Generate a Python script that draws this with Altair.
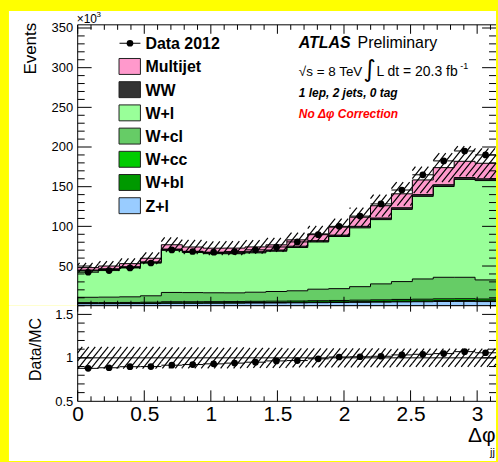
import altair as alt
import numpy as np
import pandas as pd

FONT = "Liberation Sans"

# Δφ_jj binning: 20 equal bins over [0, π]
N_BINS = 20
X_MAX = np.pi
edges = np.linspace(0.0, X_MAX, N_BINS + 1)
centers = 0.5 * (edges[:-1] + edges[1:])

# Background processes in thousands of events, listed from the bottom of the stack up
process_names = ["Z+l", "W+bl", "W+cc", "W+cl", "W+l", "WW", "Multijet"]
process_colors = ["#99ccff", "#009900", "#00cc00", "#66cc66", "#99ff99", "#333333", "#ff99cc"]

z_l = [2.5, 2.5, 2.6, 2.7, 3.0, 3.0, 3.1, 3.2, 3.3, 3.4, 3.6, 3.8, 4.0, 4.2, 4.5, 4.8, 5.0, 5.3, 5.4, 5.2]
w_bl = [0.4, 0.4, 0.4, 0.5, 0.6, 0.6, 0.6, 0.6, 0.7, 0.7, 0.7, 0.8, 0.8, 0.9, 0.9, 1.0, 1.0, 1.1, 1.1, 1.0]
w_cc = [1.0, 1.0, 1.1, 1.2, 1.4, 1.4, 1.4, 1.4, 1.5, 1.6, 1.6, 1.7, 1.8, 1.9, 2.0, 2.1, 2.2, 2.3, 2.3, 2.2]
w_cl = [6.7, 6.9, 7.1, 8.1, 11.7, 11.5, 11.2, 11.0, 11.5, 12.2, 12.9, 14.5, 14.9, 17.0, 20.1, 22.5, 25.5, 27.1, 27.0, 24.1]
w_l = [33.3, 34.8, 36.9, 41.6, 53.2, 50.6, 49.3, 49.3, 49.6, 50.8, 54.6, 59.5, 65.7, 74.1, 81.0, 91.0, 104.1, 114.4, 123.4, 125.2]
ww = [1.0, 1.0, 1.1, 1.2, 1.5, 1.5, 1.4, 1.4, 1.5, 1.5, 1.6, 1.7, 1.8, 1.9, 2.0, 2.1, 2.2, 2.3, 2.3, 2.3]
multijet = [3.1, 3.4, 3.8, 4.5, 5.4, 5.4, 5.5, 5.7, 6.0, 6.5, 8.0, 8.5, 10.0, 11.5, 15.5, 17.5, 18.5, 21.5, 20.5, 19.5]
components = [z_l, w_bl, w_cc, w_cl, w_l, ww, multijet]

# Observed events (thousands) and relative uncertainty on the total prediction
data_2012 = [42.2, 44.3, 47.6, 53.8, 70.3, 68.3, 67.5, 68.2, 70.4, 74.0,
             80.4, 89.5, 100.0, 112.9, 128.3, 145.8, 165.0, 182.5, 195.0, 190.0]
syst_frac = [0.125, 0.125, 0.125, 0.125, 0.12, 0.12, 0.12, 0.12, 0.115, 0.115,
             0.11, 0.11, 0.11, 0.11, 0.11, 0.105, 0.105, 0.105, 0.105, 0.105]

legend_labels = ["Data 2012", "Multijet", "WW", "W+l", "W+cl", "W+cc", "W+bl", "Z+l"]
legend_colors = [None, "#ff99cc", "#333333", "#99ff99", "#66cc66", "#00cc00", "#009900", "#99ccff"]

# Axis ranges and tick positions
Y_MAIN = [0.0, 354.0]
Y_RATIO = [0.5, 1.6]
main_y_labels = [50, 100, 150, 200, 250, 300, 350]
ratio_y_labels = [0.5, 1.0, 1.5]
x_labels = [0, 0.5, 1, 1.5, 2, 2.5, 3]

# Panel sizes in pixels
W = 420
H_MAIN = 282
H_RATIO = 96

one = pd.DataFrame({"k": [0]})

# ---------------------------------------------------------------- tables
area_rows = []
cum = np.zeros(N_BINS)
for name, vals in zip(process_names, components):
    vals = np.asarray(vals, dtype=float)
    lo, hi = cum.copy(), cum + vals
    for k in range(N_BINS + 1):
        j = min(k, N_BINS - 1)
        area_rows.append({"proc": name, "x": edges[k], "lo": lo[j], "hi": hi[j]})
    cum = hi
stack_df = pd.DataFrame(area_rows)
total = cum
data_arr = np.asarray(data_2012, dtype=float)
frac = np.asarray(syst_frac, dtype=float)
ratio = data_arr / total

points_df = pd.DataFrame({
    "xc": centers, "xlo": edges[:-1], "xhi": edges[1:],
    "data": data_arr, "ratio": ratio,
})


def hatch_segments(rects, sx, sy, y_min, spacing=6.5, slope=1.25):
    """Clip a family of parallel '/' lines (fixed pixel spacing) to each rectangle."""
    rows = []
    for x0, x1, y0, y1 in rects:
        X0, X1 = x0 * sx, x1 * sx
        Y0, Y1 = (y0 - y_min) * sy, (y1 - y_min) * sy
        n_lo = int(np.floor((X0 - Y1 / slope) / spacing))
        n_hi = int(np.ceil((X1 - Y0 / slope) / spacing))
        for n in range(n_lo, n_hi + 1):
            c = n * spacing
            ya = max(Y0, (X0 - c) * slope)
            yb = min(Y1, (X1 - c) * slope)
            if yb - ya > 0.4:
                rows.append({
                    "x": (c + ya / slope) / sx, "x2": (c + yb / slope) / sx,
                    "y": ya / sy + y_min, "y2": yb / sy + y_min,
                })
    return pd.DataFrame(rows)


sx = W / X_MAX
main_hatch = hatch_segments(
    [(edges[k], edges[k + 1], total[k] * (1 - frac[k]), total[k] * (1 + frac[k])) for k in range(N_BINS)],
    sx, H_MAIN / (Y_MAIN[1] - Y_MAIN[0]), Y_MAIN[0])
ratio_hatch = hatch_segments(
    [(edges[k], edges[k + 1], 1 - frac[k], 1 + frac[k]) for k in range(N_BINS)],
    sx, H_RATIO / (Y_RATIO[1] - Y_RATIO[0]), Y_RATIO[0])

x_minor = np.round(np.arange(0.0, 3.15, 0.1), 2)
x_ticks_major = pd.DataFrame({"v": [v for v in x_minor if abs(v * 2 - round(v * 2)) < 1e-6]})
x_ticks_minor = pd.DataFrame({"v": [v for v in x_minor if abs(v * 2 - round(v * 2)) > 1e-6]})
ym = np.arange(10, 351, 10)
main_y_major = pd.DataFrame({"v": [v for v in ym if v % 50 == 0]})
main_y_minor = pd.DataFrame({"v": [v for v in ym if v % 50 != 0]})
rm = np.round(np.arange(0.6, 1.61, 0.1), 2)
ratio_y_major = pd.DataFrame({"v": [v for v in rm if abs(v * 2 - round(v * 2)) < 1e-6]})
ratio_y_minor = pd.DataFrame({"v": [v for v in rm if abs(v * 2 - round(v * 2)) > 1e-6]})
unity = pd.DataFrame({"v": [1.0]})

# ---------------------------------------------------------------- encodings
x_scale = alt.Scale(domain=[0, X_MAX], nice=False, zero=False)


def MX(field):
    return alt.X(field, type="quantitative", scale=x_scale, axis=None, title=None)


main_axis = alt.Axis(values=main_y_labels, format="d", ticks=False, domain=False, grid=False,
                     labelFont=FONT, labelFontSize=13, labelColor="black", labelPadding=5,
                     labelFlush=False, zindex=2)


def MY(field):
    return alt.Y(field, type="quantitative", scale=alt.Scale(domain=Y_MAIN, nice=False, zero=False),
                 axis=main_axis, title=None, stack=None)


ratio_x_axis = alt.Axis(values=x_labels, format="~g", ticks=False, domain=False, grid=False,
                        labelFont=FONT, labelFontSize=21, labelColor="black", labelPadding=2,
                        labelFlush=False, labelOverlap=False, zindex=2)


def RX(field):
    return alt.X(field, type="quantitative", scale=x_scale, axis=ratio_x_axis, title=None)


ratio_y_axis = alt.Axis(values=ratio_y_labels, format="~g", ticks=False, domain=False, grid=False,
                        labelFont=FONT, labelFontSize=13, labelColor="black", labelPadding=5,
                        labelFlush=False, zindex=2)


def RY(field):
    return alt.Y(field, type="quantitative", scale=alt.Scale(domain=Y_RATIO, nice=False, zero=False),
                 axis=ratio_y_axis, title=None)


def text(s, x, y, size, weight="normal", style="normal", color="black", align="left",
         baseline="alphabetic", angle=0, font=FONT):
    return alt.Chart(one).mark_text(
        text=s, font=font, fontSize=size, fontWeight=weight, fontStyle=style, color=color,
        align=align, baseline=baseline, angle=angle,
    ).encode(x=alt.value(x), y=alt.value(y))


def tick_layers(xfn, yfn, xmaj, xmin, ymaj, ymin, h, xlen, ylen, top_len, top_min_len):
    layers = []
    # left and right y ticks, pointing into the frame
    for df, ln in ((ymaj, ylen[0]), (ymin, ylen[1])):
        layers.append(alt.Chart(df).mark_rule(color="black", strokeWidth=1).encode(
            y=yfn("v"), x=alt.value(0), x2=alt.value(ln)))
        layers.append(alt.Chart(df).mark_rule(color="black", strokeWidth=1).encode(
            y=yfn("v"), x=alt.value(W - ln), x2=alt.value(W)))
    # bottom and top x ticks
    for df, ln, tl in ((xmaj, xlen[0], top_len), (xmin, xlen[1], top_min_len)):
        layers.append(alt.Chart(df).mark_rule(color="black", strokeWidth=1).encode(
            x=xfn("v"), y=alt.value(h - ln), y2=alt.value(h)))
        layers.append(alt.Chart(df).mark_rule(color="black", strokeWidth=1).encode(
            x=xfn("v"), y=alt.value(0), y2=alt.value(tl)))
    return layers


def frame(h):
    return [
        alt.Chart(one).mark_rule(color="black", strokeWidth=1).encode(
            x=alt.value(0), y=alt.value(0), y2=alt.value(h)),
        alt.Chart(one).mark_rule(color="black", strokeWidth=1).encode(
            x=alt.value(0), x2=alt.value(W), y=alt.value(0)),
        alt.Chart(one).mark_rule(color="black", strokeWidth=1).encode(
            x=alt.value(0), x2=alt.value(W), y=alt.value(h)),
    ]


# ---------------------------------------------------------------- main panel
color_scale = alt.Scale(domain=process_names, range=process_colors)

main_bg = alt.Chart(one).mark_rect(color="white").encode(
    x=alt.value(-69), x2=alt.value(W), y=alt.value(-14), y2=alt.value(H_MAIN))

areas = alt.Chart(stack_df).mark_area(interpolate="step-after", opacity=1).encode(
    x=MX("x"), y=MY("lo"), y2="hi:Q",
    color=alt.Color("proc:N", scale=color_scale, legend=None),
)
outlines = alt.Chart(stack_df).mark_line(interpolate="step-after", color="black", strokeWidth=1).encode(
    x=MX("x"), y=MY("hi"), detail="proc:N")

main_hatch_layer = alt.Chart(main_hatch).mark_rule(color="black", strokeWidth=1.2).encode(
    x=MX("x"), x2="x2:Q", y=MY("y"), y2="y2:Q")

data_bars = alt.Chart(points_df).mark_rule(color="black", strokeWidth=1).encode(
    x=MX("xlo"), x2="xhi:Q", y=MY("data"))
data_dots = alt.Chart(points_df).mark_circle(color="black", size=45, opacity=1).encode(
    x=MX("xc"), y=MY("data"))

legend_layers = []
for i, (lab, col) in enumerate(zip(legend_labels, legend_colors)):
    cy = 18.5 + 23.3 * i
    if col is None:
        legend_layers.append(alt.Chart(one).mark_rule(color="black", strokeWidth=1).encode(
            x=alt.value(42), x2=alt.value(63), y=alt.value(cy)))
        legend_layers.append(alt.Chart(one).mark_circle(color="black", size=45, opacity=1).encode(
            x=alt.value(52.5), y=alt.value(cy)))
    else:
        legend_layers.append(alt.Chart(one).mark_rect(fill=col, stroke="#222222", strokeWidth=1).encode(
            x=alt.value(41.5), x2=alt.value(63), y=alt.value(cy - 8), y2=alt.value(cy + 8)))
    legend_layers.append(text(lab, 68, cy + 1, 16, weight="bold", baseline="middle"))

main_text = [
    text("Events", -47, -2, 17, align="right", baseline="middle", angle=270),
    text("×10", -1, -2, 12),
    text("3", 19, -8, 8),
    text("ATLAS", 222, 23, 16, weight="bold", style="italic"),
    text("Preliminary", 281, 23, 16),
    text("√s = 8 TeV", 222, 51, 13.5),
    text("∫", 287, 52, 24, font="DejaVu Sans"),
    text("L dt = 20.3 fb", 300, 51, 14),
    text("-1", 384, 44, 9),
    text("1 lep, 2 jets, 0 tag", 222, 72, 12, weight="bold", style="italic"),
    text("No Δφ Correction", 222, 94, 12, weight="bold", style="italic", color="#ff0000"),
]

main_layers = ([main_bg, areas, outlines, main_hatch_layer, data_bars, data_dots]
               + tick_layers(MX, MY, x_ticks_major, x_ticks_minor, main_y_major, main_y_minor,
                             H_MAIN, (9, 5), (14, 7), 9, 5)
               + frame(H_MAIN) + legend_layers + main_text)
main_panel = alt.layer(*main_layers).properties(width=W, height=H_MAIN)

# ---------------------------------------------------------------- ratio panel
ratio_bg = alt.Chart(one).mark_rect(color="white").encode(
    x=alt.value(-69), x2=alt.value(W), y=alt.value(0), y2=alt.value(H_RATIO + 60))

ratio_hatch_layer = alt.Chart(ratio_hatch).mark_rule(color="black", strokeWidth=1.2).encode(
    x=RX("x"), x2="x2:Q", y=RY("y"), y2="y2:Q")
unity_line = alt.Chart(unity).mark_rule(color="black", strokeWidth=1).encode(
    y=RY("v"), x=alt.value(0), x2=alt.value(W))
ratio_bars = alt.Chart(points_df).mark_rule(color="black", strokeWidth=1).encode(
    x=RX("xlo"), x2="xhi:Q", y=RY("ratio"))
ratio_dots = alt.Chart(points_df).mark_circle(color="black", size=45, opacity=1).encode(
    x=RX("xc"), y=RY("ratio"))

ratio_text = [
    text("Data/MC", -41.5, 44, 16, align="center", baseline="middle", angle=270),
    text("Δφ", 392, 137, 21),
    text("jj", 414, 151, 11),
]

ratio_layers = ([ratio_bg, ratio_hatch_layer, unity_line, ratio_bars, ratio_dots]
                + tick_layers(RX, RY, x_ticks_major, x_ticks_minor, ratio_y_major, ratio_y_minor,
                              H_RATIO, (11, 5), (14, 7), 6, 3)
                + frame(H_RATIO) + ratio_text)
ratio_panel = alt.layer(*ratio_layers).properties(width=W, height=H_RATIO)

chart = alt.vconcat(main_panel, ratio_panel, spacing=0, bounds="flush").properties(
    background="#ffff00",
    padding={"left": 9, "top": 10, "right": 0, "bottom": 0},
).configure_view(stroke=None)

chart.save("out.html", embed_options={"renderer": "svg", "actions": False})
